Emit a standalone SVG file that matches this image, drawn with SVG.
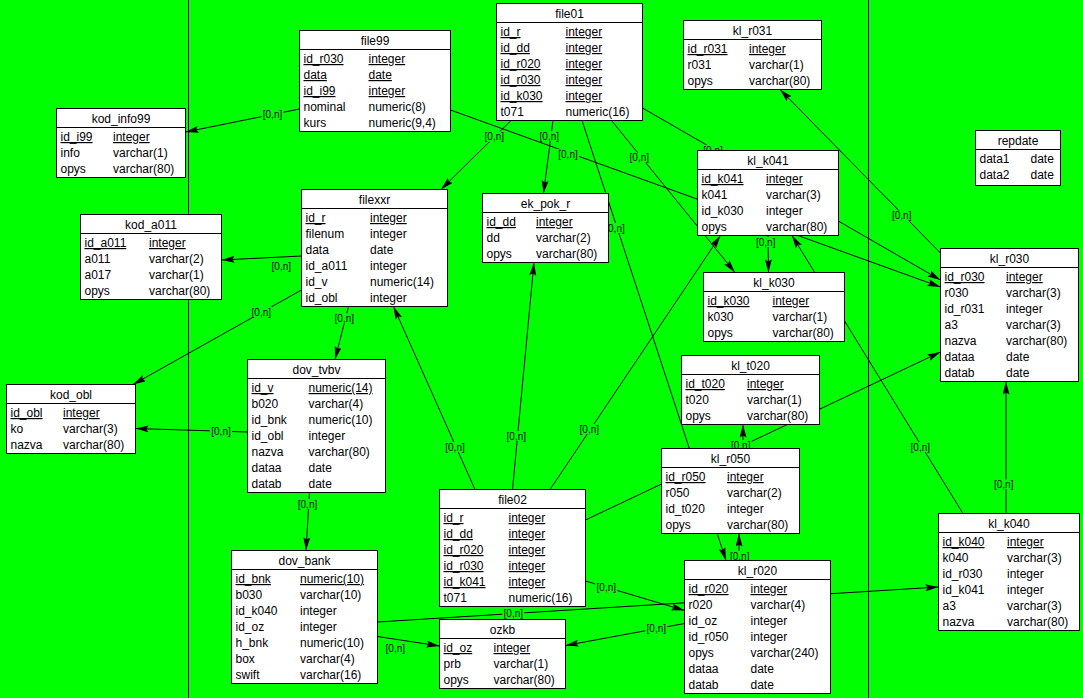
<svg xmlns="http://www.w3.org/2000/svg" width="1083" height="698" viewBox="0 0 1083 698">
<defs>
<style>
.node rect{fill:#fff;stroke:#000;stroke-width:1}
.node line{stroke:#000;stroke-width:1}
.node text{font-family:"Liberation Sans",Arial,sans-serif;font-size:12px;fill:#000}
.node text.t{text-anchor:middle}
.u{text-decoration:underline}
.c line{stroke:#000;stroke-width:1;fill:none}
.c line.a{marker-end:url(#arr)}
.lbl rect{fill:#00ff00;stroke:none}
.lbl text{font-family:"Liberation Sans",Arial,sans-serif;font-size:10px;text-anchor:middle;fill:#000}
.sep{stroke:#000;stroke-width:1}
</style>
<marker id="arr" markerUnits="userSpaceOnUse" markerWidth="14" markerHeight="8" refX="13" refY="3.5" orient="auto">
<path d="M0,0 L13,3.5 L0,7 L2,3.5 z" fill="#000"/>
</marker>
</defs>
<rect x="0" y="0" width="1083" height="698" fill="#00ff00"/>
<line class="sep" x1="188.5" y1="0" x2="188.5" y2="698"/>
<line class="sep" x1="868.5" y1="0" x2="868.5" y2="698"/>

<g id="connectors" class="c">
<line class="a" x1="299.5" y1="109" x2="185.5" y2="132"/>
<line class="a" x1="450.5" y1="110" x2="940.5" y2="287"/>
<line class="a" x1="511" y1="120.5" x2="441" y2="189.5"/>
<line class="a" x1="553" y1="120.5" x2="543.5" y2="193.5"/>
<line class="a" x1="611.5" y1="120.5" x2="735" y2="272.5"/>
<line class="a" x1="582" y1="120.5" x2="726" y2="560.5"/>
<line class="a" x1="642.5" y1="108" x2="940.5" y2="280"/>
<line class="a" x1="475" y1="489.5" x2="393.5" y2="306.5"/>
<line class="a" x1="512.5" y1="489.5" x2="534" y2="262.5"/>
<line class="a" x1="550" y1="489.5" x2="720.5" y2="235.5"/>
<line class="a" x1="585.5" y1="581" x2="684.5" y2="610.5"/>
<line class="a" x1="585.5" y1="520" x2="940.5" y2="352"/>
<line class="a" x1="301.5" y1="256" x2="221.5" y2="260"/>
<line class="a" x1="301.5" y1="290" x2="133" y2="384.5"/>
<line class="a" x1="348.5" y1="306.5" x2="335" y2="359.5"/>
<line class="a" x1="247.5" y1="432" x2="135.5" y2="428.5"/>
<line class="a" x1="309.5" y1="492.5" x2="306" y2="550.5"/>
<line class="a" x1="377.5" y1="622" x2="938.5" y2="587"/>
<line class="a" x1="377.5" y1="636.5" x2="439.5" y2="646"/>
<line class="a" x1="684.5" y1="623.5" x2="565.5" y2="645.5"/>
<line class="a" x1="739" y1="560.5" x2="739" y2="533.5"/>
<line class="a" x1="743" y1="448.5" x2="743" y2="424.5"/>
<line class="a" x1="1006" y1="513.5" x2="1006" y2="381.5"/>
<line class="a" x1="963" y1="513.5" x2="792" y2="235.5"/>
<line class="a" x1="768" y1="235.5" x2="768.5" y2="272.5"/>
<line class="a" x1="940.5" y1="253" x2="780" y2="89.5"/>

<g class="lbl"><rect x="261.5" y="109" width="22" height="10"/><text x="272.5" y="117.5">[0,n]</text></g>
<g class="lbl"><rect x="557" y="149.3" width="22" height="10"/><text x="568" y="157.8">[0,n]</text></g>
<g class="lbl"><rect x="483.3" y="131.7" width="22" height="10"/><text x="494.3" y="140.2">[0,n]</text></g>
<g class="lbl"><rect x="538.3" y="131" width="22" height="10"/><text x="549.3" y="139.5">[0,n]</text></g>
<g class="lbl"><rect x="628.3" y="152.7" width="22" height="10"/><text x="639.3" y="161.2">[0,n]</text></g>
<g class="lbl"><rect x="604" y="223" width="22" height="10"/><text x="615" y="231.5">[0,n]</text></g>
<g class="lbl"><rect x="702" y="145" width="22" height="10"/><text x="713" y="153.5">[0,n]</text></g>
<g class="lbl"><rect x="444" y="442" width="22" height="10"/><text x="455" y="450.5">[0,n]</text></g>
<g class="lbl"><rect x="505.3" y="431" width="22" height="10"/><text x="516.3" y="439.5">[0,n]</text></g>
<g class="lbl"><rect x="578.3" y="424" width="22" height="10"/><text x="589.3" y="432.5">[0,n]</text></g>
<g class="lbl"><rect x="595.3" y="582.8" width="22" height="10"/><text x="606.3" y="591.3">[0,n]</text></g>
<g class="lbl"><rect x="729.7" y="440" width="22" height="10"/><text x="740.7" y="448.5">[0,n]</text></g>
<g class="lbl"><rect x="270.3" y="261" width="22" height="10"/><text x="281.3" y="269.5">[0,n]</text></g>
<g class="lbl"><rect x="250.3" y="307" width="22" height="10"/><text x="261.3" y="315.5">[0,n]</text></g>
<g class="lbl"><rect x="333.3" y="313.3" width="22" height="10"/><text x="344.3" y="321.8">[0,n]</text></g>
<g class="lbl"><rect x="210" y="426" width="22" height="10"/><text x="221" y="434.5">[0,n]</text></g>
<g class="lbl"><rect x="296.5" y="499" width="22" height="10"/><text x="307.5" y="507.5">[0,n]</text></g>
<g class="lbl"><rect x="502.3" y="608.3" width="22" height="10"/><text x="513.3" y="616.8">[0,n]</text></g>
<g class="lbl"><rect x="384.3" y="643" width="22" height="10"/><text x="395.3" y="651.5">[0,n]</text></g>
<g class="lbl"><rect x="645.3" y="623.3" width="22" height="10"/><text x="656.3" y="631.8">[0,n]</text></g>
<g class="lbl"><rect x="728.7" y="551" width="22" height="10"/><text x="739.7" y="559.5">[0,n]</text></g>
<g class="lbl"><rect x="992.7" y="479.3" width="22" height="10"/><text x="1003.7" y="487.8">[0,n]</text></g>
<g class="lbl"><rect x="909.3" y="442" width="22" height="10"/><text x="920.3" y="450.5">[0,n]</text></g>
<g class="lbl"><rect x="754.7" y="237" width="22" height="10"/><text x="765.7" y="245.5">[0,n]</text></g>
<g class="lbl"><rect x="890.7" y="210.7" width="22" height="10"/><text x="901.7" y="219.2">[0,n]</text></g>
</g>

<g id="file99" class="node">
<rect x="299.5" y="30.5" width="151" height="101"/><line x1="299.5" y1="49.5" x2="450.5" y2="49.5"/>
<text class="t" x="375" y="45">file99</text>
<text x="303.5" y="63" class="u">id_r030</text><text x="368.5" y="63" class="u">integer</text>
<text x="303.5" y="79" class="u">data</text><text x="368.5" y="79" class="u">date</text>
<text x="303.5" y="95" class="u">id_i99</text><text x="368.5" y="95" class="u">integer</text>
<text x="303.5" y="111">nominal</text><text x="368.5" y="111">numeric(8)</text>
<text x="303.5" y="127">kurs</text><text x="368.5" y="127">numeric(9,4)</text>
</g>

<g id="file01" class="node">
<rect x="496.5" y="3.5" width="146" height="117"/><line x1="496.5" y1="22.5" x2="642.5" y2="22.5"/>
<text class="t" x="569.5" y="18">file01</text>
<text x="500.5" y="36" class="u">id_r</text><text x="565.5" y="36" class="u">integer</text>
<text x="500.5" y="52" class="u">id_dd</text><text x="565.5" y="52" class="u">integer</text>
<text x="500.5" y="68" class="u">id_r020</text><text x="565.5" y="68" class="u">integer</text>
<text x="500.5" y="84" class="u">id_r030</text><text x="565.5" y="84" class="u">integer</text>
<text x="500.5" y="100" class="u">id_k030</text><text x="565.5" y="100" class="u">integer</text>
<text x="500.5" y="116">t071</text><text x="565.5" y="116">numeric(16)</text>
</g>

<g id="kl_r031" class="node">
<rect x="683.5" y="20.5" width="138" height="69"/><line x1="683.5" y1="39.5" x2="821.5" y2="39.5"/>
<text class="t" x="752.5" y="35">kl_r031</text>
<text x="687.5" y="53" class="u">id_r031</text><text x="749" y="53" class="u">integer</text>
<text x="687.5" y="69">r031</text><text x="749" y="69">varchar(1)</text>
<text x="687.5" y="85">opys</text><text x="749" y="85">varchar(80)</text>
</g>

<g id="repdate" class="node">
<rect x="975.5" y="130.5" width="85" height="55"/><line x1="975.5" y1="149.5" x2="1060.5" y2="149.5"/>
<text class="t" x="1018" y="145">repdate</text>
<text x="979.5" y="163">data1</text><text x="1030.5" y="163">date</text>
<text x="979.5" y="179">data2</text><text x="1030.5" y="179">date</text>
</g>

<g id="kod_info99" class="node">
<rect x="56.5" y="108.5" width="129" height="69"/><line x1="56.5" y1="127.5" x2="185.5" y2="127.5"/>
<text class="t" x="121" y="123">kod_info99</text>
<text x="60.5" y="141" class="u">id_i99</text><text x="113" y="141" class="u">integer</text>
<text x="60.5" y="157">info</text><text x="113" y="157">varchar(1)</text>
<text x="60.5" y="173">opys</text><text x="113" y="173">varchar(80)</text>
</g>

<g id="filexxr" class="node">
<rect x="301.5" y="189.5" width="146" height="117"/><line x1="301.5" y1="208.5" x2="447.5" y2="208.5"/>
<text class="t" x="374.5" y="204">filexxr</text>
<text x="305.5" y="222" class="u">id_r</text><text x="370" y="222" class="u">integer</text>
<text x="305.5" y="238">filenum</text><text x="370" y="238">integer</text>
<text x="305.5" y="254">data</text><text x="370" y="254">date</text>
<text x="305.5" y="270">id_a011</text><text x="370" y="270">integer</text>
<text x="305.5" y="286">id_v</text><text x="370" y="286">numeric(14)</text>
<text x="305.5" y="302">id_obl</text><text x="370" y="302">integer</text>
</g>

<g id="ek_pok_r" class="node">
<rect x="482.5" y="193.5" width="126" height="69"/><line x1="482.5" y1="212.5" x2="608.5" y2="212.5"/>
<text class="t" x="545.5" y="208">ek_pok_r</text>
<text x="486.5" y="226" class="u">id_dd</text><text x="536" y="226" class="u">integer</text>
<text x="486.5" y="242">dd</text><text x="536" y="242">varchar(2)</text>
<text x="486.5" y="258">opys</text><text x="536" y="258">varchar(80)</text>
</g>

<g id="kl_k041" class="node">
<rect x="697.5" y="150.5" width="141" height="85"/><line x1="697.5" y1="169.5" x2="838.5" y2="169.5"/>
<text class="t" x="768" y="165">kl_k041</text>
<text x="701.5" y="183" class="u">id_k041</text><text x="766" y="183" class="u">integer</text>
<text x="701.5" y="199">k041</text><text x="766" y="199">varchar(3)</text>
<text x="701.5" y="215">id_k030</text><text x="766" y="215">integer</text>
<text x="701.5" y="231">opys</text><text x="766" y="231">varchar(80)</text>
</g>

<g id="kod_a011" class="node">
<rect x="80.5" y="214.5" width="141" height="85"/><line x1="80.5" y1="233.5" x2="221.5" y2="233.5"/>
<text class="t" x="151" y="229">kod_a011</text>
<text x="84.5" y="247" class="u">id_a011</text><text x="149" y="247" class="u">integer</text>
<text x="84.5" y="263">a011</text><text x="149" y="263">varchar(2)</text>
<text x="84.5" y="279">a017</text><text x="149" y="279">varchar(1)</text>
<text x="84.5" y="295">opys</text><text x="149" y="295">varchar(80)</text>
</g>

<g id="kl_k030" class="node">
<rect x="703.5" y="272.5" width="141" height="69"/><line x1="703.5" y1="291.5" x2="844.5" y2="291.5"/>
<text class="t" x="774" y="287">kl_k030</text>
<text x="707.5" y="305" class="u">id_k030</text><text x="772.5" y="305" class="u">integer</text>
<text x="707.5" y="321">k030</text><text x="772.5" y="321">varchar(1)</text>
<text x="707.5" y="337">opys</text><text x="772.5" y="337">varchar(80)</text>
</g>

<g id="kl_r030" class="node">
<rect x="940.5" y="248.5" width="138" height="133"/><line x1="940.5" y1="267.5" x2="1078.5" y2="267.5"/>
<text class="t" x="1009.5" y="263">kl_r030</text>
<text x="944.5" y="281" class="u">id_r030</text><text x="1006" y="281" class="u">integer</text>
<text x="944.5" y="297">r030</text><text x="1006" y="297">varchar(3)</text>
<text x="944.5" y="313">id_r031</text><text x="1006" y="313">integer</text>
<text x="944.5" y="329">a3</text><text x="1006" y="329">varchar(3)</text>
<text x="944.5" y="345">nazva</text><text x="1006" y="345">varchar(80)</text>
<text x="944.5" y="361">dataa</text><text x="1006" y="361">date</text>
<text x="944.5" y="377">datab</text><text x="1006" y="377">date</text>
</g>

<g id="kod_obl" class="node">
<rect x="6.5" y="384.5" width="129" height="69"/><line x1="6.5" y1="403.5" x2="135.5" y2="403.5"/>
<text class="t" x="71" y="399">kod_obl</text>
<text x="10.5" y="417" class="u">id_obl</text><text x="63" y="417" class="u">integer</text>
<text x="10.5" y="433">ko</text><text x="63" y="433">varchar(3)</text>
<text x="10.5" y="449">nazva</text><text x="63" y="449">varchar(80)</text>
</g>

<g id="dov_tvbv" class="node">
<rect x="247.5" y="359.5" width="138" height="133"/><line x1="247.5" y1="378.5" x2="385.5" y2="378.5"/>
<text class="t" x="316.5" y="374">dov_tvbv</text>
<text x="251.5" y="392" class="u">id_v</text><text x="308.5" y="392" class="u">numeric(14)</text>
<text x="251.5" y="408">b020</text><text x="308.5" y="408">varchar(4)</text>
<text x="251.5" y="424">id_bnk</text><text x="308.5" y="424">numeric(10)</text>
<text x="251.5" y="440">id_obl</text><text x="308.5" y="440">integer</text>
<text x="251.5" y="456">nazva</text><text x="308.5" y="456">varchar(80)</text>
<text x="251.5" y="472">dataa</text><text x="308.5" y="472">date</text>
<text x="251.5" y="488">datab</text><text x="308.5" y="488">date</text>
</g>

<g id="kl_t020" class="node">
<rect x="681.5" y="355.5" width="138" height="69"/><line x1="681.5" y1="374.5" x2="819.5" y2="374.5"/>
<text class="t" x="750.5" y="370">kl_t020</text>
<text x="685.5" y="388" class="u">id_t020</text><text x="747" y="388" class="u">integer</text>
<text x="685.5" y="404">t020</text><text x="747" y="404">varchar(1)</text>
<text x="685.5" y="420">opys</text><text x="747" y="420">varchar(80)</text>
</g>

<g id="kl_r050" class="node">
<rect x="661.5" y="448.5" width="138" height="85"/><line x1="661.5" y1="467.5" x2="799.5" y2="467.5"/>
<text class="t" x="730.5" y="463">kl_r050</text>
<text x="665.5" y="481" class="u">id_r050</text><text x="727" y="481" class="u">integer</text>
<text x="665.5" y="497">r050</text><text x="727" y="497">varchar(2)</text>
<text x="665.5" y="513">id_t020</text><text x="727" y="513">integer</text>
<text x="665.5" y="529">opys</text><text x="727" y="529">varchar(80)</text>
</g>

<g id="file02" class="node">
<rect x="439.5" y="489.5" width="146" height="117"/><line x1="439.5" y1="508.5" x2="585.5" y2="508.5"/>
<text class="t" x="512.5" y="504">file02</text>
<text x="443.5" y="522" class="u">id_r</text><text x="508.5" y="522" class="u">integer</text>
<text x="443.5" y="538" class="u">id_dd</text><text x="508.5" y="538" class="u">integer</text>
<text x="443.5" y="554" class="u">id_r020</text><text x="508.5" y="554" class="u">integer</text>
<text x="443.5" y="570" class="u">id_r030</text><text x="508.5" y="570" class="u">integer</text>
<text x="443.5" y="586" class="u">id_k041</text><text x="508.5" y="586" class="u">integer</text>
<text x="443.5" y="602">t071</text><text x="508.5" y="602">numeric(16)</text>
</g>

<g id="kl_k040" class="node">
<rect x="938.5" y="513.5" width="141" height="117"/><line x1="938.5" y1="532.5" x2="1079.5" y2="532.5"/>
<text class="t" x="1009" y="528">kl_k040</text>
<text x="942.5" y="546" class="u">id_k040</text><text x="1007" y="546" class="u">integer</text>
<text x="942.5" y="562">k040</text><text x="1007" y="562">varchar(3)</text>
<text x="942.5" y="578">id_r030</text><text x="1007" y="578">integer</text>
<text x="942.5" y="594">id_k041</text><text x="1007" y="594">integer</text>
<text x="942.5" y="610">a3</text><text x="1007" y="610">varchar(3)</text>
<text x="942.5" y="626">nazva</text><text x="1007" y="626">varchar(80)</text>
</g>

<g id="dov_bank" class="node">
<rect x="231.5" y="550.5" width="146" height="133"/><line x1="231.5" y1="569.5" x2="377.5" y2="569.5"/>
<text class="t" x="304.5" y="565">dov_bank</text>
<text x="235.5" y="583" class="u">id_bnk</text><text x="300" y="583" class="u">numeric(10)</text>
<text x="235.5" y="599">b030</text><text x="300" y="599">varchar(10)</text>
<text x="235.5" y="615">id_k040</text><text x="300" y="615">integer</text>
<text x="235.5" y="631">id_oz</text><text x="300" y="631">integer</text>
<text x="235.5" y="647">h_bnk</text><text x="300" y="647">numeric(10)</text>
<text x="235.5" y="663">box</text><text x="300" y="663">varchar(4)</text>
<text x="235.5" y="679">swift</text><text x="300" y="679">varchar(16)</text>
</g>

<g id="kl_r020" class="node">
<rect x="684.5" y="560.5" width="146" height="133"/><line x1="684.5" y1="579.5" x2="830.5" y2="579.5"/>
<text class="t" x="757.5" y="575">kl_r020</text>
<text x="688.5" y="593" class="u">id_r020</text><text x="750.5" y="593" class="u">integer</text>
<text x="688.5" y="609">r020</text><text x="750.5" y="609">varchar(4)</text>
<text x="688.5" y="625">id_oz</text><text x="750.5" y="625">integer</text>
<text x="688.5" y="641">id_r050</text><text x="750.5" y="641">integer</text>
<text x="688.5" y="657">opys</text><text x="750.5" y="657">varchar(240)</text>
<text x="688.5" y="673">dataa</text><text x="750.5" y="673">date</text>
<text x="688.5" y="689">datab</text><text x="750.5" y="689">date</text>
</g>

<g id="ozkb" class="node">
<rect x="439.5" y="619.5" width="126" height="69"/><line x1="439.5" y1="638.5" x2="565.5" y2="638.5"/>
<text class="t" x="502.5" y="634">ozkb</text>
<text x="443.5" y="652" class="u">id_oz</text><text x="493.5" y="652" class="u">integer</text>
<text x="443.5" y="668">prb</text><text x="493.5" y="668">varchar(1)</text>
<text x="443.5" y="684">opys</text><text x="493.5" y="684">varchar(80)</text>
</g>
</svg>
